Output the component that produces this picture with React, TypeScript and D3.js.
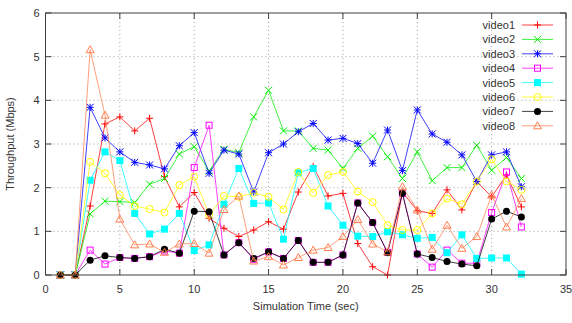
import * as d3 from 'd3'
import { useEffect, useRef } from 'react'

const times = d3.range(1, 33)

const video1 = [0, 0, 1.58, 3.46, 3.62, 3.3, 3.59, 2.25, 1.56, 1.89, 1.3, 1.07, 0.88, 1.03, 1.22, 1.05, 1.9, 2.49, 1.81, 1.87, 0.72, 0.19, 0, 1.9, 1.47, 1.41, 1.95, 1.49, 2.14, 1.79, 2.29, 1.56]
const video2 = [0, 0, 1.4, 1.69, 1.68, 1.66, 2.08, 2.21, 2.77, 2.94, 2.38, 2.88, 2.8, 3.62, 4.23, 3.3, 3.3, 2.9, 2.86, 2.44, 2.9, 3.18, 2.71, 2.21, 2.82, 2.16, 2.46, 2.46, 2.97, 2.4, 2.69, 2.21]
const video3 = [0, 0, 3.84, 3.14, 2.82, 2.58, 2.52, 2.43, 2.96, 3.26, 2.33, 2.86, 2.77, 1.9, 2.8, 3.0, 3.28, 3.47, 3.09, 3.13, 3.01, 2.56, 3.32, 2.39, 3.78, 3.23, 3.04, 2.75, 2.14, 2.75, 2.82, 2.02]
const video4 = [0, 0, 0.57, 0.25, 0.4, 0.38, 0.42, 0.55, 0.5, 2.46, 3.43, 0.46, 0.74, 0.36, 0.53, 0.38, 0.79, 0.29, 0.29, 0.46, 1.65, 1.2, 0.52, 1.87, 0.48, 0.18, 0.57, 0.27, 0.27, 1.43, 2.36, 1.1]
const video5 = [0, 0, 2.17, 2.82, 2.62, 1.41, 0.94, 1.05, 1.41, 0.56, 0.69, 1.62, 2.44, 1.64, 1.65, 0.82, 2.34, 2.44, 1.58, 1.14, 0.89, 0.88, 0.99, 0.92, 0.84, 0.86, 0.51, 0.92, 0.38, 0.39, 0.39, 0.02]
const video6 = [0, 0, 2.59, 2.33, 1.83, 1.58, 1.51, 1.43, 2.06, 2.25, 1.38, 1.81, 1.79, 1.88, 1.79, 1.5, 2.36, 1.88, 2.29, 2.36, 1.91, 1.67, 1.14, 1.03, 1.03, 1.41, 1.75, 1.62, 2.14, 2.65, 2.14, 1.95]
const video7 = [0, 0, 0.34, 0.44, 0.4, 0.38, 0.42, 0.59, 0.5, 1.46, 1.45, 0.46, 0.74, 0.38, 0.53, 0.38, 0.79, 0.29, 0.29, 0.46, 1.65, 1.2, 0.51, 1.87, 0.48, 0.4, 0.31, 0.25, 0.21, 1.28, 1.46, 1.33]
const video8 = [0, 0, 5.16, 3.66, 1.28, 0.69, 0.71, 0.52, 0.71, 0.72, 0.5, 1.5, 1.81, 0.32, 0.42, 0.23, 0.4, 0.57, 0.63, 0.88, 1.27, 0.71, 0.53, 2.02, 1.49, 0.59, 1.14, 0.61, 0.88, 1.83, 1.1, 1.75]

const seriesNames = ['video1', 'video2', 'video3', 'video4', 'video5', 'video6', 'video7', 'video8']
const seriesValues = [video1, video2, video3, video4, video5, video6, video7, video8]
const seriesColors = ['#ff0000', '#00ee00', '#0000ff', '#ff00ff', '#00ffff', '#ffff00', '#000000', '#ff7f50']
const xTicks = [0, 5, 10, 15, 20, 25, 30, 35]
const yTicks = [0, 1, 2, 3, 4, 5, 6]

const W = 572
const H = 323
const margin = { top: 13, right: 6, bottom: 48, left: 45.5 }

// gnuplot point types 1..8
function drawPoint(g: any, type: number, cx: number, cy: number, color: string) {
  const s = 3.5
  if (type === 0) {
    g.append('path').attr('d', `M${cx - s},${cy}H${cx + s}M${cx},${cy - s}V${cy + s}`).attr('stroke', color).attr('fill', 'none')
  } else if (type === 1) {
    g.append('path').attr('d', `M${cx - s},${cy - s}L${cx + s},${cy + s}M${cx - s},${cy + s}L${cx + s},${cy - s}`).attr('stroke', color).attr('fill', 'none')
  } else if (type === 2) {
    g.append('path')
      .attr('d', `M${cx - s},${cy}H${cx + s}M${cx},${cy - s}V${cy + s}M${cx - s},${cy - s}L${cx + s},${cy + s}M${cx - s},${cy + s}L${cx + s},${cy - s}`)
      .attr('stroke', color).attr('fill', 'none')
  } else if (type === 3) {
    g.append('rect').attr('x', cx - 3).attr('y', cy - 3).attr('width', 6).attr('height', 6).attr('stroke', color).attr('fill', 'none')
  } else if (type === 4) {
    g.append('rect').attr('x', cx - 3.5).attr('y', cy - 3.5).attr('width', 7).attr('height', 7).attr('fill', color)
  } else if (type === 5) {
    g.append('circle').attr('cx', cx).attr('cy', cy).attr('r', 3.5).attr('stroke', color).attr('fill', 'none')
  } else if (type === 6) {
    g.append('circle').attr('cx', cx).attr('cy', cy).attr('r', 3.5).attr('fill', color)
  } else {
    g.append('path').attr('d', `M${cx},${cy - 4}L${cx + 4},${cy + 3}L${cx - 4},${cy + 3}Z`).attr('stroke', color).attr('fill', 'none')
  }
}

export default function App() {
  const ref = useRef<SVGSVGElement>(null)

  useEffect(() => {
    const svg = d3.select(ref.current)
    svg.selectAll('*').remove()

    const x = d3.scaleLinear().domain([0, 35]).range([margin.left, W - margin.right])
    const y = d3.scaleLinear().domain([0, 6]).range([H - margin.bottom, margin.top])
    const font = 'Liberation Sans, Arial, sans-serif'
    const axisColor = '#404040'

    // grid
    const grid = svg.append('g').attr('stroke', '#a0a0a0').attr('stroke-dasharray', '1,3').attr('stroke-width', 1)
    xTicks.slice(1, -1).forEach((t) => {
      grid.append('line').attr('x1', x(t)).attr('x2', x(t)).attr('y1', y(0)).attr('y2', y(6))
    })
    yTicks.slice(1, -1).forEach((t) => {
      grid.append('line').attr('x1', x(0)).attr('x2', x(35)).attr('y1', y(t)).attr('y2', y(t))
    })

    // series
    const line = d3.line<number>().x((d, i) => x(times[i])).y((d) => y(d))
    seriesValues.forEach((vals, si) => {
      const color = seriesColors[si]
      const g = svg.append('g').attr('stroke-width', 1)
      g.append('path').datum(vals).attr('d', line).attr('fill', 'none').attr('stroke', color).attr('stroke-opacity', 0.75)
      vals.forEach((v, i) => drawPoint(g, si, x(times[i]), y(v), color))
    })

    // border
    svg.append('rect')
      .attr('x', x(0)).attr('y', y(6)).attr('width', x(35) - x(0)).attr('height', y(0) - y(6))
      .attr('fill', 'none').attr('stroke', axisColor).attr('stroke-width', 1)

    // ticks (inside, mirrored)
    const tk = svg.append('g').attr('stroke', axisColor)
    xTicks.forEach((t) => {
      tk.append('line').attr('x1', x(t)).attr('x2', x(t)).attr('y1', y(0)).attr('y2', y(0) - 6)
      tk.append('line').attr('x1', x(t)).attr('x2', x(t)).attr('y1', y(6)).attr('y2', y(6) + 6)
    })
    yTicks.forEach((t) => {
      tk.append('line').attr('x1', x(0)).attr('x2', x(0) + 6).attr('y1', y(t)).attr('y2', y(t))
      tk.append('line').attr('x1', x(35)).attr('x2', x(35) - 6).attr('y1', y(t)).attr('y2', y(t))
    })

    const labels = svg.append('g').attr('font-family', font).attr('font-size', 11).attr('fill', '#333')
    xTicks.forEach((t) => {
      labels.append('text').attr('x', x(t)).attr('y', y(0) + 18).attr('text-anchor', 'middle').text(t)
    })
    yTicks.forEach((t) => {
      labels.append('text').attr('x', x(0) - 6).attr('y', y(t) + 4).attr('text-anchor', 'end').text(t)
    })
    labels.append('text').attr('x', (x(0) + x(35)) / 2).attr('y', 310).attr('text-anchor', 'middle').text('Simulation Time (sec)')
    labels.append('text')
      .attr('transform', `translate(14,${(y(0) + y(6)) / 2}) rotate(-90)`)
      .attr('text-anchor', 'middle').text('Throughput (Mbps)')

    // legend
    const lg = svg.append('g').attr('font-family', font).attr('font-size', 11)
    seriesNames.forEach((name, si) => {
      const ly = 25 + si * 14.4
      const color = seriesColors[si]
      lg.append('text').attr('x', 515).attr('y', ly + 4).attr('text-anchor', 'end').attr('fill', '#333').text(name)
      lg.append('line').attr('x1', 522).attr('x2', 553).attr('y1', ly).attr('y2', ly).attr('stroke', color).attr('stroke-opacity', 0.75)
      drawPoint(lg.append('g'), si, 537.5, ly, color)
    })
  }, [])

  return (
    <div style={{ position: 'absolute', left: 0, top: 0 }}>
      <svg ref={ref} width={W} height={H} style={{ display: 'block', background: '#fff' }} />
    </div>
  )
}
